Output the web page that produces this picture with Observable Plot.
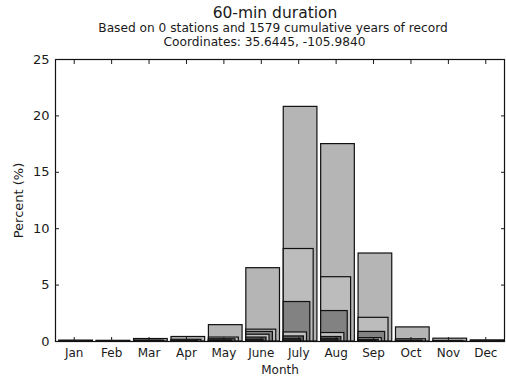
<!DOCTYPE html>
<html>
<head>
<meta charset="utf-8">
<script src="https://cdn.jsdelivr.net/npm/d3@7"></script>
<script src="https://cdn.jsdelivr.net/npm/@observablehq/plot@0.6"></script>
<style>
  html, body { margin: 0; padding: 0; background: #fff; }
  #wrap { width: 506px; height: 377px; position: relative; font-family: "DejaVu Sans", sans-serif; color: #1a1a1a; }
  .t { position: absolute; white-space: nowrap; text-align: center; }
  #title { top: 4px; left: 0; width: 550px; font-size: 15.5px; }
  #sub1 { top: 21px; left: 0; width: 546px; font-size: 12.2px; }
  #sub2 { top: 35px; left: 0; width: 529px; font-size: 12.2px; }
  #chart { position: absolute; left: 0; top: 52px; }
</style>
</head>
<body>
<div id="wrap">
  <div class="t" id="title">60-min duration</div>
  <div class="t" id="sub1">Based on 0 stations and 1579 cumulative years of record</div>
  <div class="t" id="sub2">Coordinates: 35.6445, -105.9840</div>
  <div id="chart"></div>
</div>
<script>
const months = ["Jan","Feb","Mar","Apr","May","June","July","Aug","Sep","Oct","Nov","Dec"];
const yTicks = [0, 5, 10, 15, 20, 25];

// percent of events per month, one array per series (drawn widest first)
const series1 = [0.08, 0.06, 0.22, 0.40, 1.45, 6.5, 20.8, 17.5, 7.8, 1.25, 0.25, 0.10];
const series2 = [0.02, 0.02, 0.08, 0.15, 0.35, 1.05, 8.2, 5.7, 2.1, 0.20, 0.05, 0.02];
const series3 = [0, 0, 0.05, 0.05, 0.20, 0.85, 3.5, 2.7, 0.85, 0.08, 0.02, 0];
const series4 = [0, 0, 0, 0.02, 0.10, 0.60, 0.80, 0.75, 0.30, 0.03, 0, 0];
const series5 = [0, 0, 0, 0, 0.05, 0.35, 0.45, 0.40, 0.15, 0, 0, 0];
const series6 = [0, 0, 0, 0, 0.02, 0.15, 0.20, 0.20, 0.05, 0, 0, 0];

const seriesList = [
  {values: series1, width: 0.90, fill: "#b5b5b5"},
  {values: series2, width: 0.80, fill: "#bcbcbc"},
  {values: series3, width: 0.71, fill: "#828282"},
  {values: series4, width: 0.62, fill: "#c2c2c2"},
  {values: series5, width: 0.54, fill: "#5c5c5c"},
  {values: series6, width: 0.46, fill: "#2e2e2e"}
];

const barMarks = seriesList.map(s => Plot.rect(
  s.values.map((v, i) => ({m: i + 1, v})).filter(d => d.v > 0),
  {x1: d => d.m - 0.4, x2: d => d.m - 0.4 + s.width, y1: 0, y2: "v",
   fill: s.fill, stroke: "#111", strokeWidth: 1.2}
));

const chart = Plot.plot({
  width: 506,
  height: 325,
  marginTop: 7,
  marginBottom: 36,
  marginLeft: 55,
  marginRight: 2,
  style: {fontFamily: "DejaVu Sans, sans-serif", fontSize: "12px", color: "#1a1a1a", background: "#fff"},
  x: {domain: [0.5, 12.5]},
  y: {domain: [0, 25]},
  marks: [
    ...barMarks,
    Plot.frame({stroke: "#111", strokeWidth: 1.2}),
    Plot.axisX(d3.range(1, 13), {anchor: "bottom", tickSize: -4, tickPadding: 11, tickFormat: i => months[i - 1],
      fontSize: 12, label: "Month", labelAnchor: "center", labelArrow: "none", labelOffset: 32, fontSize: 12}),
    Plot.axisX(d3.range(1, 13), {anchor: "top", tickSize: -4, tickFormat: () => "", label: null}),
    Plot.axisY(yTicks, {anchor: "left", tickSize: -4, tickPadding: 10, fontSize: 13,
      label: "Percent (%)", labelAnchor: "center", labelArrow: "none", labelOffset: 42}),
    Plot.axisY(yTicks, {anchor: "right", tickSize: -4, tickFormat: () => "", label: null})
  ]
});
document.getElementById("chart").appendChild(chart);
</script>
</body>
</html>
